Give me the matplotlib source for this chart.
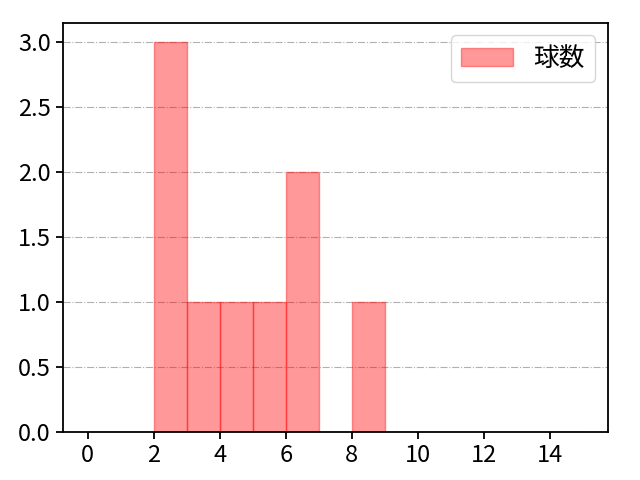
import numpy as np
import matplotlib
matplotlib.use("Agg")
import matplotlib.pyplot as plt

plt.rcParams['font.family'] = ['Noto Sans CJK JP', 'DejaVu Sans']

# histogram bins (width 1) and counts
bin_edges = list(range(0, 16))
bin_counts = [0, 0, 3, 1, 1, 1, 2, 0, 1, 0, 0, 0, 0, 0, 0]
label = '球数'

fig, ax = plt.subplots(figsize=(6.4, 4.8), dpi=100)
ax.hist(bin_edges[:-1], bins=bin_edges, weights=bin_counts,
        color='red', alpha=0.4, edgecolor='red', label=label)

ax.set_xticks(np.arange(0, 15, 2))
ax.grid(axis='y', linestyle='-.', color='#b0b0b0')
ax.set_axisbelow(True)
ax.legend(loc='upper right', fontsize=18.5)
ax.tick_params(labelsize=17, width=1.3, length=5)
for sp in ax.spines.values():
    sp.set_color('black')
    sp.set_linewidth(1.3)

fig.subplots_adjust(left=0.098, right=0.95, top=0.953, bottom=0.1)
fig.savefig("out.png")
